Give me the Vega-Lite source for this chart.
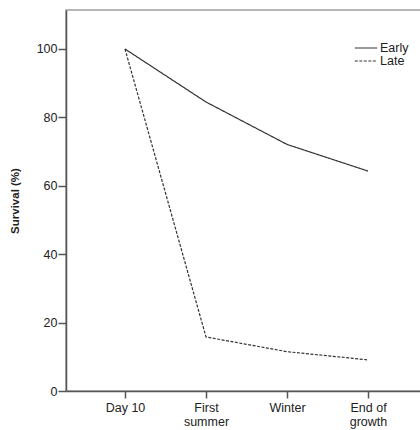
{
  "$schema": "https://vega.github.io/schema/vega-lite/v6.json",
  "autosize": "none",
  "padding": {"left": 66, "top": 10, "right": 0, "bottom": 39},
  "width": 361,
  "height": 381,
  "config": {
    "font": "Liberation Sans",
    "view": {"stroke": "#a0a0a0", "strokeWidth": 1.5},
    "axis": {"grid": false, "domainColor": "#555", "tickColor": "#555", "labelColor": "#222", "labelFontSize": 12.5, "domainWidth": 1.5, "tickWidth": 1.5}
  },
  "data": {
    "values": [
      {"stage": "Day 10", "group": "Early", "survival": 100},
      {"stage": "First summer", "group": "Early", "survival": 84.5},
      {"stage": "Winter", "group": "Early", "survival": 72.1},
      {"stage": "End of growth", "group": "Early", "survival": 64.3},
      {"stage": "Day 10", "group": "Late", "survival": 100},
      {"stage": "First summer", "group": "Late", "survival": 15.8},
      {"stage": "Winter", "group": "Late", "survival": 11.5},
      {"stage": "End of growth", "group": "Late", "survival": 9.1}
    ]
  },
  "mark": {"type": "line", "color": "#333", "strokeWidth": 1.2},
  "encoding": {
    "x": {
      "field": "stage",
      "type": "ordinal",
      "sort": ["Day 10", "First summer", "Winter", "End of growth"],
      "scale": {"type": "point", "padding": 0.728},
      "axis": {
        "title": null,
        "labelAngle": 0,
        "tickSize": 7,
        "labelPadding": 3,
        "labelLineHeight": 14,
        "labelExpr": "datum.label == 'First summer' ? ['First', 'summer'] : datum.label == 'End of growth' ? ['End of', 'growth'] : datum.label"
      }
    },
    "y": {
      "field": "survival",
      "type": "quantitative",
      "scale": {"domain": [0, 111.4], "nice": false},
      "axis": {
        "title": "Survival (%)",
        "titleFontSize": 11.5,
        "titleFontWeight": "bold",
        "titleColor": "#222",
        "titlePadding": 16,
        "values": [0, 20, 40, 60, 80, 100],
        "tickSize": 8,
        "labelPadding": 1
      }
    },
    "strokeDash": {
      "field": "group",
      "type": "nominal",
      "scale": {"domain": ["Early", "Late"], "range": [[1, 0], [3, 1.5]]},
      "legend": {
        "title": null,
        "orient": "none",
        "legendX": 288,
        "legendY": 32,
        "symbolType": "stroke",
        "symbolSize": 500,
        "symbolStrokeColor": "#333",
        "symbolStrokeWidth": 1.2,
        "labelFontSize": 12.5,
        "labelColor": "#222",
        "labelOffset": 2,
        "clipHeight": 12,
        "rowPadding": 0
      }
    }
  }
}
